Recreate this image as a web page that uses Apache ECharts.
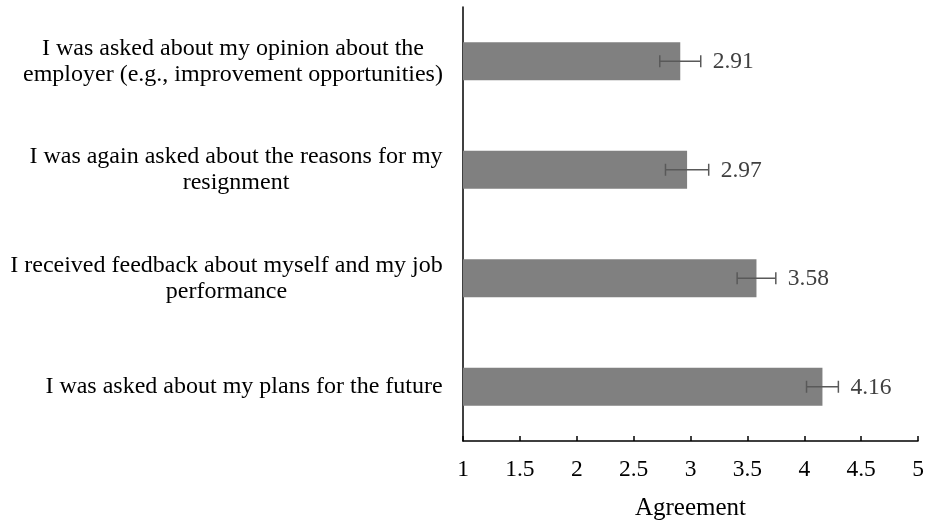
<!DOCTYPE html>
<html>
<head>
<meta charset="utf-8">
<script src="https://cdn.jsdelivr.net/npm/echarts@6/dist/echarts.min.js"></script>
<style>
  html, body { margin: 0; padding: 0; background: #fff; }
  #chart { width: 927px; height: 524px; }
</style>
</head>
<body>
<div id="chart"></div>
<script>
const categories = [
  'I was asked about my opinion about the\nemployer (e.g., improvement opportunities)',
  'I was again asked about the reasons for my\nresignment',
  'I received feedback about myself and my job\nperformance',
  'I was asked about my plans for the future'
];
const means = [2.91, 2.97, 3.58, 4.16];
const errors = [0.18, 0.19, 0.17, 0.14];
const xTicks = [1, 1.5, 2, 2.5, 3, 3.5, 4, 4.5, 5];

const FONT = '"Liberation Serif", "Times New Roman", serif';
const LABEL_SIZE = 24;

// width of each label block so lines can be centred inside it
const ctx = document.createElement('canvas').getContext('2d');
ctx.font = LABEL_SIZE + 'px ' + FONT;
const rich = {};
categories.forEach((c, i) => {
  const w = Math.max(...c.split('\n').map(l => ctx.measureText(l).width));
  rich['c' + i] = { width: Math.ceil(w), align: 'center', fontFamily: FONT, fontSize: LABEL_SIZE, color: '#000', lineHeight: 26 };
});

const chart = echarts.init(document.getElementById('chart'));
chart.setOption({
  animation: false,
  grid: { left: 463, right: 9, top: 7, bottom: 83, containLabel: false, outerBoundsMode: 'none' },
  xAxis: {
    type: 'value',
    min: 1,
    max: 5,
    interval: 0.5,
    name: 'Agreement',
    nameLocation: 'middle',
    nameGap: 55,
    nameTextStyle: { fontFamily: FONT, fontSize: 25, color: '#000' },
    axisLine: { show: true, lineStyle: { color: '#000', width: 1.5 } },
    axisTick: { show: true, inside: true, length: 5, lineStyle: { color: '#000', width: 1.5 } },
    axisLabel: {
      margin: 17,
      fontFamily: FONT, fontSize: 23.5, color: '#000',
      formatter: v => xTicks.includes(v) ? String(v) : ''
    },
    splitLine: { show: false }
  },
  yAxis: {
    type: 'category',
    data: categories,
    inverse: true,
    axisLine: { show: true, lineStyle: { color: '#000', width: 1.5 } },
    axisTick: { show: false },
    axisLabel: {
      margin: 20,
      align: 'right',
      formatter: (v, i) => v.split('\n').map(l => '{c' + i + '|' + l + '}').join('\n'),
      rich: rich
    }
  },
  series: [
    {
      type: 'bar',
      data: means,
      barWidth: 38,
      itemStyle: { color: '#808080' },
      z: 2
    },
    {
      type: 'custom',
      z: 3,
      data: means.map((m, i) => [i, m - errors[i], m + errors[i], m]),
      encode: { x: [1, 2], y: 0 },
      renderItem: (params, api) => {
        const idx = api.value(0);
        const lo = api.coord([api.value(1), idx]);
        const hi = api.coord([api.value(2), idx]);
        const cap = 6;
        const st = { stroke: '#595959', lineWidth: 1.5 };
        return {
          type: 'group',
          children: [
            { type: 'line', shape: { x1: lo[0], y1: lo[1], x2: hi[0], y2: hi[1] }, style: st },
            { type: 'line', shape: { x1: lo[0], y1: lo[1] - cap, x2: lo[0], y2: lo[1] + cap }, style: st },
            { type: 'line', shape: { x1: hi[0], y1: hi[1] - cap, x2: hi[0], y2: hi[1] + cap }, style: st },
            {
              type: 'text',
              style: {
                x: hi[0] + 12, y: hi[1] + 1,
                text: api.value(3).toFixed(2),
                fontFamily: FONT, fontSize: 23.5, fill: '#404040',
                verticalAlign: 'middle', align: 'left'
              }
            }
          ]
        };
      }
    }
  ]
});
</script>
</body>
</html>
